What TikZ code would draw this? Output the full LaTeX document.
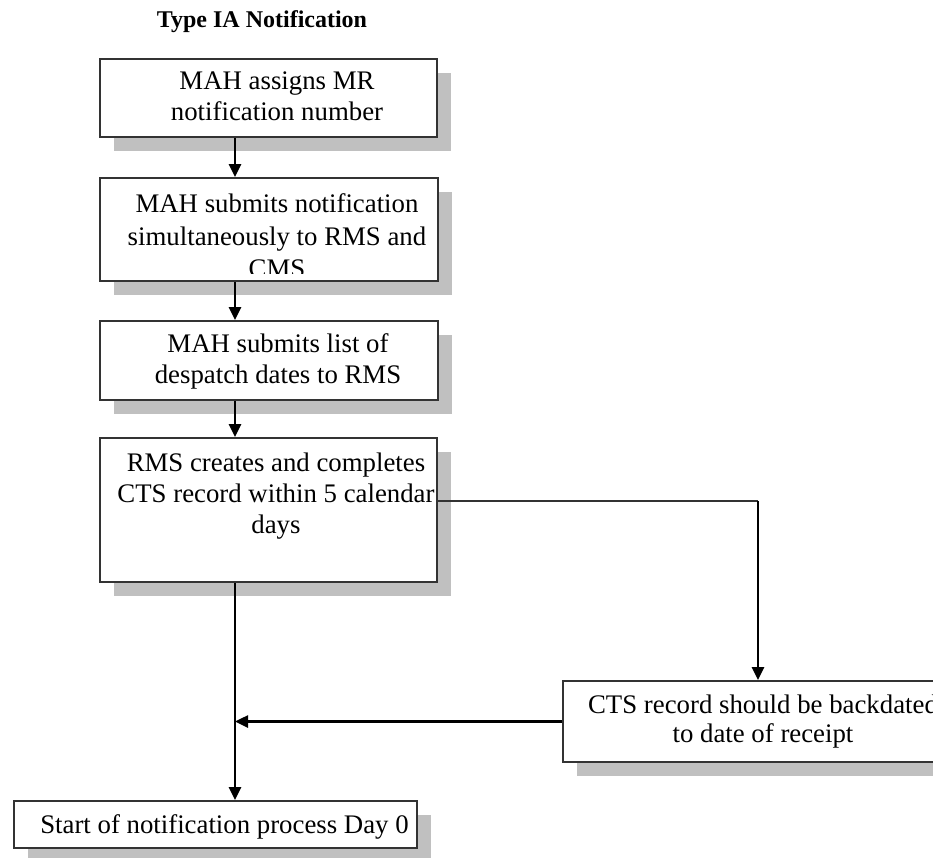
\documentclass[tikz,border=0pt]{standalone}
\usepackage{fontspec}
\setmainfont{Liberation Serif}
\usetikzlibrary{arrows.meta,shadows}
\definecolor{shadowgray}{HTML}{C0C0C0}
\definecolor{edgegray}{HTML}{333333}
\begin{document}
\begin{tikzpicture}[x=1pt,y=-1pt,
  box/.style={draw=edgegray, line width=1.8pt, fill=white, rectangle, inner sep=0pt,
     drop shadow={shadow xshift=14pt, shadow yshift=-14pt, fill=shadowgray, opacity=1}},
  txt/.style={font=\fontsize{26.8}{31}\selectfont, align=center, inner sep=0pt, anchor=base},
  titletxt/.style={font=\fontsize{24}{28}\selectfont\bfseries, inner sep=0pt, anchor=base},
  flow/.style={line width=2.5pt, -{Triangle[length=13pt,width=12pt]}},
  thinline/.style={line width=1.5pt, draw=edgegray}]
\useasboundingbox (0,0) rectangle (933,858);

\node[titletxt] (title) at (262,28) {Type IA Notification};

\node[box, minimum width=337pt, minimum height=78pt] (b1) at (268.5,98) {};
\node[box, minimum width=338pt, minimum height=103pt] (b2) at (269,229.5) {};
\node[box, minimum width=338pt, minimum height=79pt] (b3) at (269,360.5) {};
\node[box, minimum width=337pt, minimum height=144pt] (b4) at (268.5,510) {};
\node[box, minimum width=390pt, minimum height=81pt] (b5) at (758,721.5) {};
\node[box, minimum width=403pt, minimum height=47pt] (b6) at (215.5,824.5) {};

\node[txt] (t1) at (277,121) {MAH assigns MR\\notification number};
\begin{scope}
  \clip (b2.north west) rectangle ([yshift=8pt]b2.south east);
  \node[txt, font=\fontsize{26.8}{32.5}\selectfont] (t2) at (277,278) {MAH submits notification\\simultaneously to RMS and\\CMS};
\end{scope}
\node[txt] (t3) at (278,383) {MAH submits list of\\despatch dates to RMS};
\node[txt] (t4) at (276,533) {RMS creates and completes\\CTS record within 5 calendar\\days};
\node[txt, font=\fontsize{26.8}{29}\selectfont] (t5) at (763,742) {CTS record should be backdated\\to date of receipt};
\node[txt] (t6) at (224.5,833) {Start of notification process Day 0};

\coordinate (spine) at (235,0);
\coordinate (j1) at (758,501);

\draw[flow] (b1.south -| spine) -- (b2.north -| spine);
\draw[flow] (b2.south -| spine) -- (b3.north -| spine);
\draw[flow] (b3.south -| spine) -- (b4.north -| spine);
\draw[flow] (b4.south -| spine) -- (b6.north -| spine);
\draw[thinline] (b4.east |- j1) -- (j1);
\draw[flow] (j1) -- (b5.north);
\draw[flow] (b5.west) -- (b5.west -| spine);
\end{tikzpicture}
\end{document}
